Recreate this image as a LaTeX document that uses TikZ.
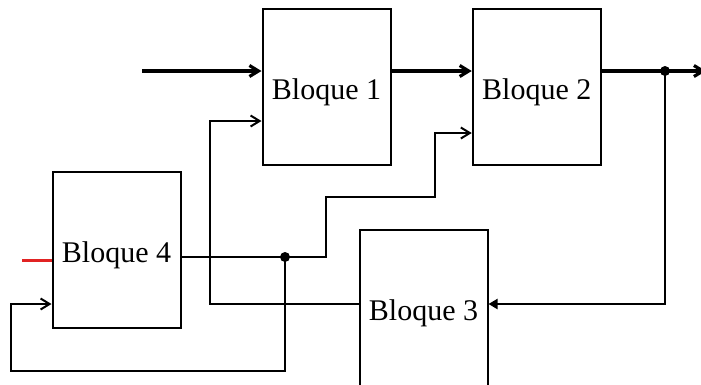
\documentclass[tikz,border=0pt]{standalone}
\usepackage{fontspec}
\setmainfont{Liberation Serif}
\usetikzlibrary{arrows.meta,calc}
\definecolor{inred}{RGB}{225,35,35}
\begin{document}
\begin{tikzpicture}[x=1pt,y=-1pt,
  blockbox/.style={draw,line width=2pt,minimum width=128pt,minimum height=156pt,
    inner sep=0pt,text height=24pt,text depth=0pt,font=\fontsize{30}{36}\selectfont},
  wire/.style={line width=2pt},
  thickwire/.style={line width=3.2pt},
  barb/.style={-{Straight Barb[length=9pt,width=11pt]}},
  solidtip/.style={-{Triangle[length=9pt,width=10pt]}},
  junction/.style={circle,fill,inner sep=0pt,minimum size=10pt}]
\useasboundingbox (0,0) rectangle (701,384);

% blocks
\node[blockbox] (b1) at (326.5,87) {Bloque 1};
\node[blockbox] (b2) at (536.75,87) {Bloque 2};
\node[blockbox] (b4) at (116.5,250) {Bloque 4};
\node[blockbox] (b3) at (423.5,308) {Bloque 3};

% junction points and free ends
\node[junction] (d1) at (665,71) {};
\node[junction] (d2) at (285,257) {};
\coordinate (in) at (142,71);
\coordinate (out) at (706,71);
\coordinate (red) at (22,260);

% main forward path
\draw[thickwire,barb] (in) -- ($(b1.west)+(0,-16)$);
\draw[thickwire,barb] ($(b1.east)+(0,-16)$) -- ($(b2.west)+(0,-16)$);
\draw[thickwire] ($(b2.east)+(0,-16)$) -- (d1.center);
\draw[thickwire,barb] (d1.center) -- (out);

% feedback from the output into Bloque 3
\draw[wire,solidtip] (d1.center) |- ($(b3.east)+(0,-4)$);

% Bloque 3 back into Bloque 1
\draw[wire,barb] ($(b3.west)+(0,-4)$) -- (210,304) -- (210,121) -- ($(b1.west)+(0,34)$);

% Bloque 4 output into Bloque 2
\draw[wire] ($(b4.east)+(0,7)$) -- (d2.center);
\draw[wire,barb] (d2.center) -- (326,257) -- (326,197) -- (435,197) -- (435,133)
  -- ($(b2.west)+(0,46)$);

% loop back into Bloque 4
\draw[wire,barb] (d2.center) -- (285,371) -- (11,371) -- (11,304) -- ($(b4.west)+(0,54)$);

% external input of Bloque 4
\draw[line width=3pt,inred] (red) -- ($(b4.west)+(0,10)$);
\end{tikzpicture}
\end{document}
